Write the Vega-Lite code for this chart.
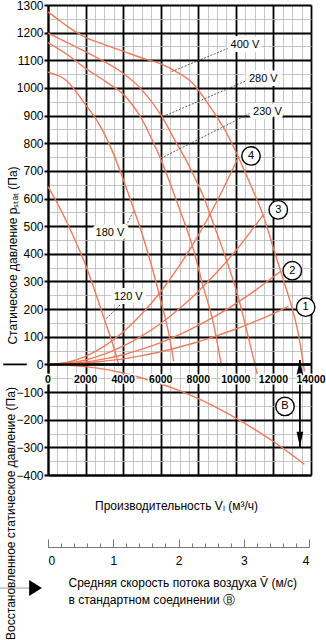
{
  "$schema": "https://vega.github.io/schema/vega-lite/v6.json",
  "width": 263,
  "height": 470,
  "autosize": {"type": "none"},
  "padding": {"left": 48, "top": 5, "right": 15, "bottom": 165},
  "background": "white",
  "config": {
    "view": {"stroke": null},
    "font": "Liberation Sans",
    "axis": {"labelFont": "Liberation Sans", "titleFont": "Liberation Sans", "titleFontWeight": "normal", "labelColor": "black", "titleColor": "black"},
    "text": {"font": "Liberation Sans"}
  },
  "datasets": {
    "curves": [
      {"s":"400","g":"fan","q":0,"p":1275},{"s":"400","g":"fan","q":500,"p":1250},{"s":"400","g":"fan","q":1050,"p":1222},{"s":"400","g":"fan","q":1550,"p":1200},{"s":"400","g":"fan","q":2000,"p":1183},{"s":"400","g":"fan","q":3000,"p":1157},{"s":"400","g":"fan","q":4000,"p":1133},{"s":"400","g":"fan","q":5200,"p":1104},{"s":"400","g":"fan","q":6000,"p":1087},{"s":"400","g":"fan","q":6800,"p":1060},{"s":"400","g":"fan","q":7700,"p":1017},{"s":"400","g":"fan","q":8600,"p":935},{"s":"400","g":"fan","q":9500,"p":838},{"s":"400","g":"fan","q":10100,"p":755},{"s":"400","g":"fan","q":10900,"p":631},{"s":"400","g":"fan","q":11450,"p":540},{"s":"400","g":"fan","q":12080,"p":402},{"s":"400","g":"fan","q":12500,"p":312},{"s":"400","g":"fan","q":12970,"p":209},{"s":"400","g":"fan","q":13320,"p":113},{"s":"400","g":"fan","q":13650,"p":-25},
      {"s":"280","g":"fan","q":0,"p":1198},{"s":"280","g":"fan","q":1000,"p":1165},{"s":"280","g":"fan","q":2000,"p":1131},{"s":"280","g":"fan","q":3000,"p":1095},{"s":"280","g":"fan","q":4000,"p":1053},{"s":"280","g":"fan","q":5000,"p":993},{"s":"280","g":"fan","q":6050,"p":898},{"s":"280","g":"fan","q":6800,"p":805},{"s":"280","g":"fan","q":7500,"p":720},{"s":"280","g":"fan","q":7870,"p":667},{"s":"280","g":"fan","q":8200,"p":620},{"s":"280","g":"fan","q":8800,"p":510},{"s":"280","g":"fan","q":9500,"p":378},{"s":"280","g":"fan","q":10120,"p":245},{"s":"280","g":"fan","q":10570,"p":125},{"s":"280","g":"fan","q":11140,"p":-35},
      {"s":"230","g":"fan","q":0,"p":1164},{"s":"230","g":"fan","q":1000,"p":1122},{"s":"230","g":"fan","q":2000,"p":1071},{"s":"230","g":"fan","q":3070,"p":1023},{"s":"230","g":"fan","q":4130,"p":969},{"s":"230","g":"fan","q":5020,"p":884},{"s":"230","g":"fan","q":5560,"p":810},{"s":"230","g":"fan","q":6090,"p":728},{"s":"230","g":"fan","q":6500,"p":655},{"s":"230","g":"fan","q":7000,"p":562},{"s":"230","g":"fan","q":7700,"p":425},{"s":"230","g":"fan","q":8250,"p":285},{"s":"230","g":"fan","q":8800,"p":150},{"s":"230","g":"fan","q":9240,"p":-8},
      {"s":"180","g":"fan","q":0,"p":1057},{"s":"180","g":"fan","q":1000,"p":1025},{"s":"180","g":"fan","q":2000,"p":939},{"s":"180","g":"fan","q":2700,"p":872},{"s":"180","g":"fan","q":3400,"p":776},{"s":"180","g":"fan","q":4000,"p":670},{"s":"180","g":"fan","q":4600,"p":555},{"s":"180","g":"fan","q":5060,"p":462},{"s":"180","g":"fan","q":5600,"p":335},{"s":"180","g":"fan","q":6000,"p":232},{"s":"180","g":"fan","q":6400,"p":120},{"s":"180","g":"fan","q":6690,"p":12},
      {"s":"120","g":"fan","q":0,"p":643},{"s":"120","g":"fan","q":400,"p":595},{"s":"120","g":"fan","q":1000,"p":515},{"s":"120","g":"fan","q":1500,"p":440},{"s":"120","g":"fan","q":2000,"p":360},{"s":"120","g":"fan","q":2500,"p":265},{"s":"120","g":"fan","q":3000,"p":163},{"s":"120","g":"fan","q":3500,"p":62},{"s":"120","g":"fan","q":3750,"p":2},
      {"s":"4","g":"sys","q":0,"p":0},{"s":"4","g":"sys","q":1000,"p":7},{"s":"4","g":"sys","q":2000,"p":29},{"s":"4","g":"sys","q":3000,"p":66},{"s":"4","g":"sys","q":4000,"p":117},{"s":"4","g":"sys","q":5000,"p":183},{"s":"4","g":"sys","q":6000,"p":263},{"s":"4","g":"sys","q":7000,"p":358},{"s":"4","g":"sys","q":8000,"p":467},{"s":"4","g":"sys","q":9000,"p":591},{"s":"4","g":"sys","q":10150,"p":752},
      {"s":"3","g":"sys","q":0,"p":0},{"s":"3","g":"sys","q":1000,"p":4},{"s":"3","g":"sys","q":2000,"p":16},{"s":"3","g":"sys","q":3000,"p":37},{"s":"3","g":"sys","q":4000,"p":66},{"s":"3","g":"sys","q":5000,"p":103},{"s":"3","g":"sys","q":6000,"p":148},{"s":"3","g":"sys","q":7000,"p":202},{"s":"3","g":"sys","q":8000,"p":264},{"s":"3","g":"sys","q":9000,"p":334},{"s":"3","g":"sys","q":10000,"p":412},{"s":"3","g":"sys","q":11450,"p":540},
      {"s":"2","g":"sys","q":0,"p":0},{"s":"2","g":"sys","q":1000,"p":2},{"s":"2","g":"sys","q":2000,"p":9},{"s":"2","g":"sys","q":3000,"p":20},{"s":"2","g":"sys","q":4000,"p":35},{"s":"2","g":"sys","q":5000,"p":55},{"s":"2","g":"sys","q":6000,"p":79},{"s":"2","g":"sys","q":7000,"p":108},{"s":"2","g":"sys","q":8000,"p":141},{"s":"2","g":"sys","q":9000,"p":178},{"s":"2","g":"sys","q":10000,"p":220},{"s":"2","g":"sys","q":11000,"p":266},{"s":"2","g":"sys","q":12350,"p":335},
      {"s":"1","g":"sys","q":0,"p":0},{"s":"1","g":"sys","q":1000,"p":1},{"s":"1","g":"sys","q":2000,"p":5},{"s":"1","g":"sys","q":3000,"p":12},{"s":"1","g":"sys","q":4000,"p":20},{"s":"1","g":"sys","q":5000,"p":32},{"s":"1","g":"sys","q":6000,"p":46},{"s":"1","g":"sys","q":7000,"p":63},{"s":"1","g":"sys","q":8000,"p":82},{"s":"1","g":"sys","q":9000,"p":104},{"s":"1","g":"sys","q":10000,"p":128},{"s":"1","g":"sys","q":11000,"p":155},{"s":"1","g":"sys","q":12000,"p":184},{"s":"1","g":"sys","q":12800,"p":210},
      {"s":"B","g":"B","q":0,"p":0},{"s":"B","g":"B","q":1000,"p":-2},{"s":"B","g":"B","q":2000,"p":-8},{"s":"B","g":"B","q":3000,"p":-17},{"s":"B","g":"B","q":4000,"p":-31},{"s":"B","g":"B","q":5000,"p":-49},{"s":"B","g":"B","q":6000,"p":-70},{"s":"B","g":"B","q":7000,"p":-95},{"s":"B","g":"B","q":8000,"p":-124},{"s":"B","g":"B","q":9000,"p":-157},{"s":"B","g":"B","q":10000,"p":-194},{"s":"B","g":"B","q":11000,"p":-235},{"s":"B","g":"B","q":12000,"p":-279},{"s":"B","g":"B","q":13000,"p":-328},{"s":"B","g":"B","q":13650,"p":-361}
    ],
    "flowTicks": [{"q":0},{"q":2000},{"q":4000},{"q":6000},{"q":8000},{"q":10000},{"q":12000},{"q":14000}],
    "vlabels": [
      {"t":"400 V","x":10486,"y":1155,"x0":9778,"y0":1149,"x1":6585,"y1":1059},
      {"t":"280 V","x":11460,"y":1031,"x0":10662,"y0":1029,"x1":6105,"y1":896},
      {"t":"230 V","x":11684,"y":914,"x0":10928,"y0":914,"x1":6015,"y1":746},
      {"t":"180 V","x":3300,"y":474,"x0":4152,"y0":501,"x1":4540,"y1":552},
      {"t":"120 V","x":4274,"y":245,"x0":3833,"y0":215,"x1":3034,"y1":161}
    ],
    "circles": [
      {"t":"4","x":10806,"y":754},
      {"t":"3","x":12259,"y":559},
      {"t":"2","x":13004,"y":339},
      {"t":"1","x":13717,"y":207},
      {"t":"B","x":12616,"y":-152}
    ],
    "annot": [
      {"k":"zero","y":0},
      {"k":"dash","x":-2380,"x2":-1130,"y":0,"y2":0},
      {"k":"arrowline","x":-2555,"x2":-905,"y":-809,"y2":-809},
      {"k":"vline","x":13410,"x2":13410,"y":16,"y2":-300},
      {"k":"headright","x":-665,"y":-809},
      {"k":"headup","x":13410,"y":-11},
      {"k":"headdown","x":13410,"y":-271}
    ],
    "vel": [{"v":0},{"v":4}]
  },
  "layer": [
    {
      "layer": [
        {
          "data": {"name": "curves"},
          "transform": [{"filter": "datum.g == 'fan'"}],
          "mark": {"type": "line", "color": "#f07a5c", "strokeWidth": 1.4, "interpolate": "monotone"},
          "encoding": {
            "x": {"field": "q", "type": "quantitative", "scale": {"domain": [0, 14000], "nice": false, "zero": false},
              "axis": {"orient": "bottom", "values": [0,500,1000,1500,2000,2500,3000,3500,4000,4500,5000,5500,6000,6500,7000,7500,8000,8500,9000,9500,10000,10500,11000,11500,12000,12500,13000,13500,14000], "grid": true, "gridColor": "#b8b8b8", "gridWidth": 0.8, "labels": false, "ticks": false, "domain": false, "title": null}},
            "y": {"field": "p", "type": "quantitative", "scale": {"domain": [-400, 1300], "nice": false, "zero": false},
              "axis": {"orient": "left", "values": [-400,-350,-300,-250,-200,-150,-100,-50,0,50,100,150,200,250,300,350,400,450,500,550,600,650,700,750,800,850,900,950,1000,1050,1100,1150,1200,1250,1300], "grid": true, "gridColor": "#b8b8b8", "gridWidth": 0.8, "labels": false, "ticks": false, "domain": false, "title": null}},
            "detail": {"field": "s"}
          }
        },
        {
          "data": {"name": "curves"},
          "transform": [{"filter": "datum.g == 'sys'"}],
          "mark": {"type": "line", "color": "#f07a5c", "strokeWidth": 1.4, "interpolate": "monotone"},
          "encoding": {
            "x": {"field": "q", "type": "quantitative",
              "axis": {"orient": "bottom", "values": [0,2000,4000,6000,8000,10000,12000,14000], "grid": true, "gridColor": "black", "gridWidth": 1.8, "labels": false, "ticks": false, "domain": true, "domainColor": "black", "domainWidth": 2, "title": "Производительность Vₗ (м³/ч)", "titleFontSize": 12, "titleX": 128, "titleY": 30, "titleBaseline": "middle", "titleAlign": "center"}},
            "y": {"field": "p", "type": "quantitative",
              "axis": {"orient": "left", "values": [-400,-300,-200,-100,0,100,200,300,400,500,600,700,800,900,1000,1100,1200,1300], "format": "d", "grid": true, "gridColor": "black", "gridWidth": 1.8, "labels": true, "labelFontSize": 12, "labelPadding": 1, "ticks": true, "tickColor": "black", "tickSize": 4, "tickWidth": 2, "domain": true, "domainColor": "black", "domainWidth": 2, "title": "Статическое давление pₛₜₐₜ (Па)", "titleFontSize": 12, "titleAngle": 270, "titleX": -36, "titleY": 250, "titleAlign": "center", "titleBaseline": "middle"}},
            "detail": {"field": "s"}
          }
        },
        {
          "data": {"name": "curves"},
          "transform": [{"filter": "datum.g == 'B'"}],
          "mark": {"type": "line", "color": "#f07a5c", "strokeWidth": 1.4, "interpolate": "monotone"},
          "encoding": {
            "x": {"field": "q", "type": "quantitative", "axis": null},
            "y": {"field": "p", "type": "quantitative",
              "axis": {"orient": "left", "grid": false, "labels": false, "ticks": false, "domain": false, "title": "Восстановленное статическое давление (Па)", "titleFontSize": 12, "titleAngle": 270, "titleX": -38, "titleY": 508, "titleAlign": "center", "titleBaseline": "middle"}}
          }
        },
        {
          "data": {"name": "annot"},
          "transform": [{"filter": "datum.k == 'zero'"}],
          "mark": {"type": "rule", "color": "black", "strokeWidth": 2.5},
          "encoding": {"y": {"field": "y", "type": "quantitative", "axis": null}}
        },
        {
          "data": {"name": "annot"},
          "transform": [{"filter": "datum.k == 'dash' || datum.k == 'vline'"}],
          "mark": {"type": "rule", "color": "black", "strokeWidth": 1.8},
          "encoding": {
            "x": {"field": "x", "type": "quantitative", "axis": null},
            "x2": {"field": "x2"},
            "y": {"field": "y", "type": "quantitative", "axis": null},
            "y2": {"field": "y2"}
          }
        },
        {
          "data": {"name": "annot"},
          "transform": [{"filter": "datum.k == 'arrowline'"}],
          "mark": {"type": "rule", "color": "#999999", "strokeWidth": 1},
          "encoding": {
            "x": {"field": "x", "type": "quantitative", "axis": null},
            "x2": {"field": "x2"},
            "y": {"field": "y", "type": "quantitative", "axis": null},
            "y2": {"field": "y2"}
          }
        },
        {
          "data": {"name": "annot"},
          "transform": [{"filter": "datum.k == 'headright'"}],
          "mark": {"type": "point", "shape": "M-0.8,-1L0.8,0L-0.8,1Z", "filled": true, "color": "black", "size": 256, "opacity": 1},
          "encoding": {
            "x": {"field": "x", "type": "quantitative", "axis": null},
            "y": {"field": "y", "type": "quantitative", "axis": null}
          }
        },
        {
          "data": {"name": "annot"},
          "transform": [{"filter": "datum.k == 'headup'"}],
          "mark": {"type": "point", "shape": "M0,-1L0.45,1L-0.45,1Z", "filled": true, "color": "black", "size": 225, "opacity": 1},
          "encoding": {
            "x": {"field": "x", "type": "quantitative", "axis": null},
            "y": {"field": "y", "type": "quantitative", "axis": null}
          }
        },
        {
          "data": {"name": "annot"},
          "transform": [{"filter": "datum.k == 'headdown'"}],
          "mark": {"type": "point", "shape": "M0,1L0.45,-1L-0.45,-1Z", "filled": true, "color": "black", "size": 225, "opacity": 1},
          "encoding": {
            "x": {"field": "x", "type": "quantitative", "axis": null},
            "y": {"field": "y", "type": "quantitative", "axis": null}
          }
        },
        {
          "data": {"name": "flowTicks"},
          "mark": {"type": "text", "fontWeight": "bold", "fontSize": 10.5, "dy": 16, "stroke": "white", "strokeWidth": 3, "fill": "white"},
          "encoding": {
            "x": {"field": "q", "type": "quantitative", "axis": null},
            "y": {"datum": 0, "type": "quantitative", "axis": null},
            "text": {"field": "q", "type": "quantitative", "format": "d"}
          }
        },
        {
          "data": {"name": "flowTicks"},
          "mark": {"type": "text", "fontWeight": "bold", "fontSize": 10.5, "dy": 16, "color": "black"},
          "encoding": {
            "x": {"field": "q", "type": "quantitative", "axis": null},
            "y": {"datum": 0, "type": "quantitative", "axis": null},
            "text": {"field": "q", "type": "quantitative", "format": "d"}
          }
        },
        {
          "data": {"name": "vlabels"},
          "mark": {"type": "rule", "color": "#333333", "strokeWidth": 0.8, "strokeDash": [2, 1.5]},
          "encoding": {
            "x": {"field": "x0", "type": "quantitative", "axis": null},
            "y": {"field": "y0", "type": "quantitative", "axis": null},
            "x2": {"field": "x1"},
            "y2": {"field": "y1"}
          }
        },
        {
          "data": {"name": "vlabels"},
          "mark": {"type": "text", "fontSize": 11, "stroke": "white", "strokeWidth": 8, "strokeJoin": "round", "fill": "white"},
          "encoding": {
            "x": {"field": "x", "type": "quantitative", "axis": null},
            "y": {"field": "y", "type": "quantitative", "axis": null},
            "text": {"field": "t"}
          }
        },
        {
          "data": {"name": "vlabels"},
          "mark": {"type": "text", "fontSize": 11, "color": "black"},
          "encoding": {
            "x": {"field": "x", "type": "quantitative", "axis": null},
            "y": {"field": "y", "type": "quantitative", "axis": null},
            "text": {"field": "t"}
          }
        },
        {
          "data": {"name": "circles"},
          "mark": {"type": "point", "shape": "circle", "filled": false, "fill": "white", "stroke": "black", "strokeWidth": 1.4, "size": 340, "opacity": 1},
          "encoding": {
            "x": {"field": "x", "type": "quantitative", "axis": null},
            "y": {"field": "y", "type": "quantitative", "axis": null}
          }
        },
        {
          "data": {"name": "circles"},
          "mark": {"type": "text", "fontSize": 11, "color": "black"},
          "encoding": {
            "x": {"field": "x", "type": "quantitative", "axis": null},
            "y": {"field": "y", "type": "quantitative", "axis": null},
            "text": {"field": "t"}
          }
        }
      ],
      "resolve": {"axis": {"x": "independent", "y": "independent"}}
    },
    {
      "data": {"name": "vel"},
      "mark": {"type": "point", "opacity": 0},
      "encoding": {
        "x": {"field": "v", "type": "quantitative", "scale": {"domain": [0, 4], "range": [0, 261], "nice": false, "zero": false},
          "axis": {"orient": "bottom", "offset": 72, "values": [0,0.2,0.4,0.6,0.8,1,1.2,1.4,1.6,1.8,2,2.2,2.4,2.6,2.8,3,3.2,3.4,3.6,3.8,4], "labels": false, "ticks": true, "tickSize": -4, "tickColor": "#777777", "tickWidth": 1, "domain": false, "grid": false, "title": null}}
      }
    },
    {
      "data": {"name": "vel"},
      "mark": {"type": "point", "opacity": 0},
      "encoding": {
        "x": {"field": "v", "type": "quantitative", "scale": {"domain": [0, 4], "range": [0, 261], "nice": false, "zero": false},
          "axis": {"orient": "bottom", "offset": 72, "values": [0,1,2,3,4], "labels": true, "labelFontSize": 12, "labelPadding": 16, "ticks": true, "tickSize": -8, "tickColor": "#777777", "tickWidth": 1, "domain": true, "domainColor": "#777777", "domainWidth": 1, "grid": false,
            "title": ["Средняя скорость потока воздуха V̄ (м/с)", "в стандартном соединении Ⓑ"], "titleFontSize": 12, "titleAnchor": "start", "titleAlign": "left", "titleX": 20, "titleY": 30, "titleBaseline": "top", "titleLineHeight": 17.5}}
      }
    }
  ],
  "resolve": {"scale": {"x": "independent"}, "axis": {"x": "independent"}}
}
